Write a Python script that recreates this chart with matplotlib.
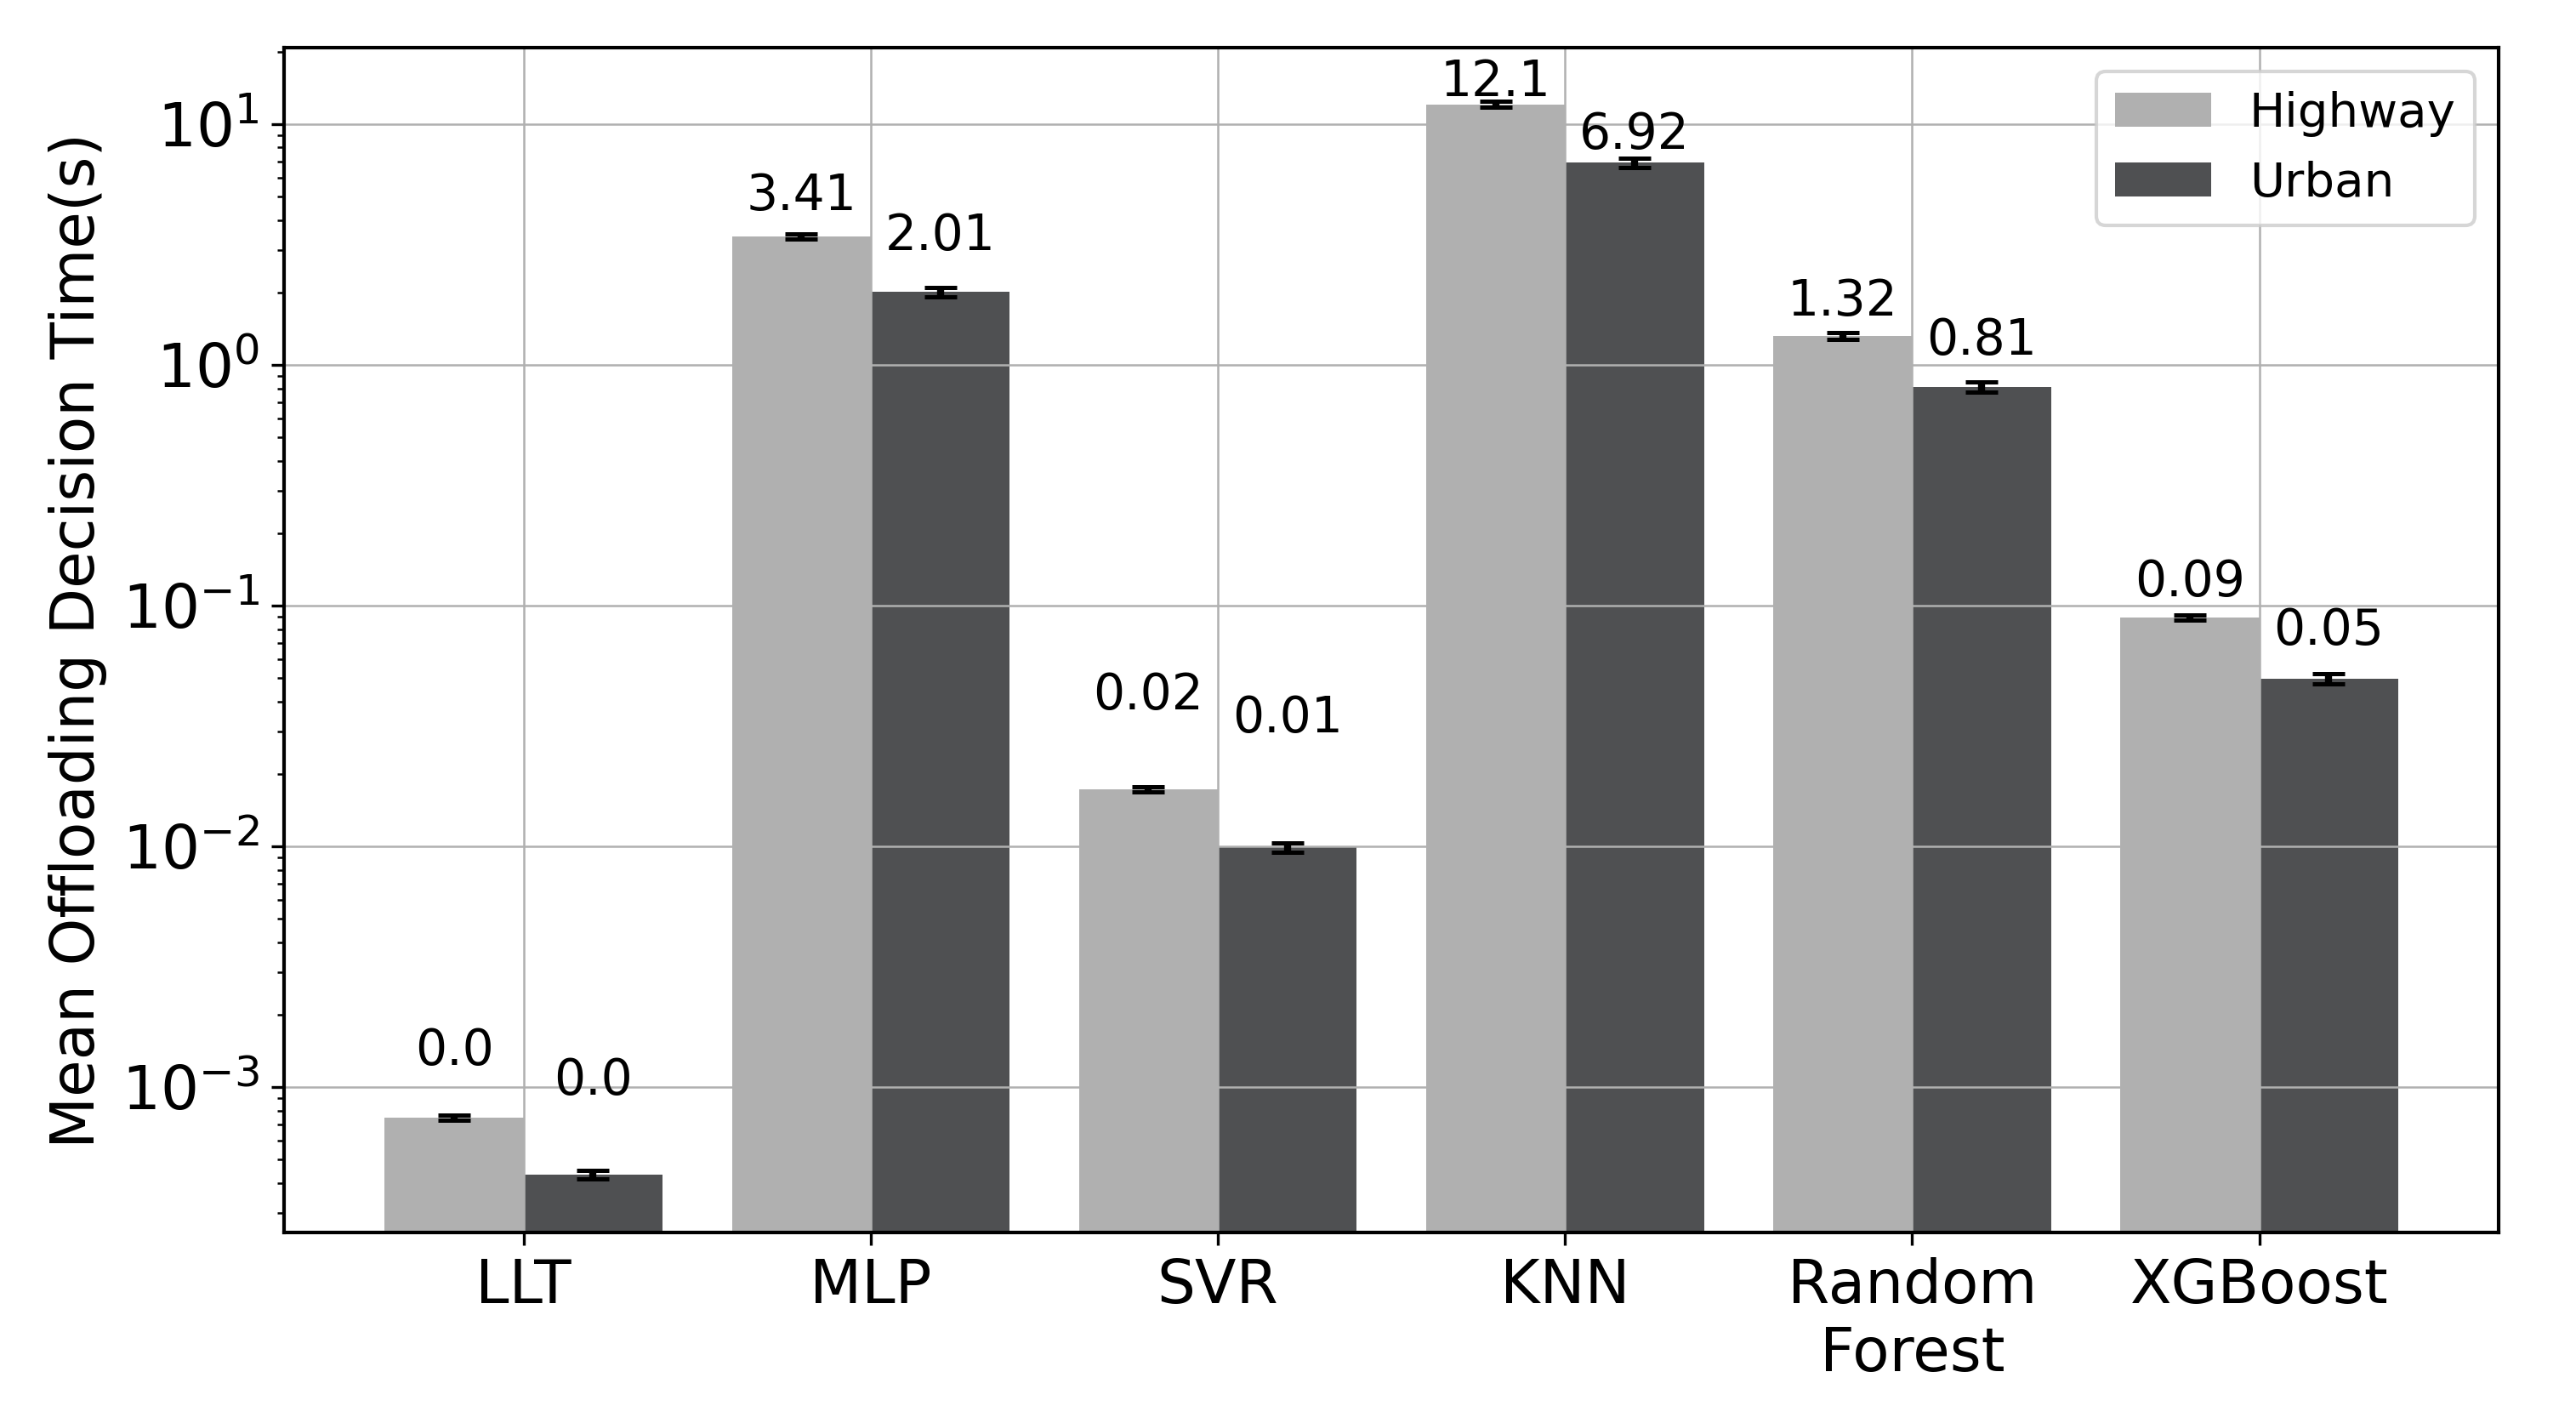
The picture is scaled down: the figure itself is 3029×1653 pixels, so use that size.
import matplotlib
matplotlib.use("Agg")
import matplotlib.pyplot as plt
import numpy as np

# Data
MODELS = ["LLT", "MLP", "SVR", "KNN", "Random\nForest", "XGBoost"]
HIGHWAY = [7.46e-4, 3.41, 0.01726, 12.1, 1.32, 0.0893]
URBAN = [4.33e-4, 2.01, 0.0099, 6.92, 0.81, 0.0497]
HIGHWAY_ERR = [2.0e-5, 0.085, 4.4e-4, 0.33, 0.04, 0.0022]
URBAN_ERR = [1.8e-5, 0.087, 4.5e-4, 0.30, 0.037, 0.0023]

# label baseline offsets above the bar top (points)
HIGHWAY_LABEL_OFF = [15, 7.4, 22.6, 2.2, 5.8, 6]
URBAN_LABEL_OFF = [22.6, 11.8, 32.5, 3.8, 9, 9.7]

x = np.arange(len(MODELS))
width = 0.4

fig = plt.figure(figsize=(10.097, 5.51), dpi=300)
ax = fig.add_axes([0.1103, 0.1234, 0.8597, 0.8427])

err_kw = dict(ecolor="black", elinewidth=2, capthick=1.2, capsize=4.5)
b1 = ax.bar(x - width / 2, HIGHWAY, width, color="#b0b0b0", label="Highway",
            yerr=HIGHWAY_ERR, error_kw=err_kw)
b2 = ax.bar(x + width / 2, URBAN, width, color="#4f5052", label="Urban",
            yerr=URBAN_ERR, error_kw=err_kw)

ax.set_yscale("log")
ax.set_ylim(2.49e-4, 20.8)

# value labels
for bars, vals, offs in [(b1, HIGHWAY, HIGHWAY_LABEL_OFF), (b2, URBAN, URBAN_LABEL_OFF)]:
    for rect, v, off in zip(bars, vals, offs):
        ax.annotate(str(round(v, 2)),
                    xy=(rect.get_x() + rect.get_width() / 2, rect.get_height()),
                    xytext=(0, off), textcoords="offset points",
                    ha="center", va="baseline", fontsize=14)

ax.set_xticks(x)
ax.set_xticklabels(MODELS, fontsize=17)
ax.tick_params(axis="y", labelsize=17)
ax.set_ylabel("Mean Offloading Decision Time(s)", fontsize=17)
ax.grid(True, color="#b0b0b0", linewidth=0.6)

for sp in ax.spines.values():
    sp.set_linewidth(1.0)

ax.legend(loc="upper right", fontsize=13.5)

plt.savefig("out.png", dpi=300)
